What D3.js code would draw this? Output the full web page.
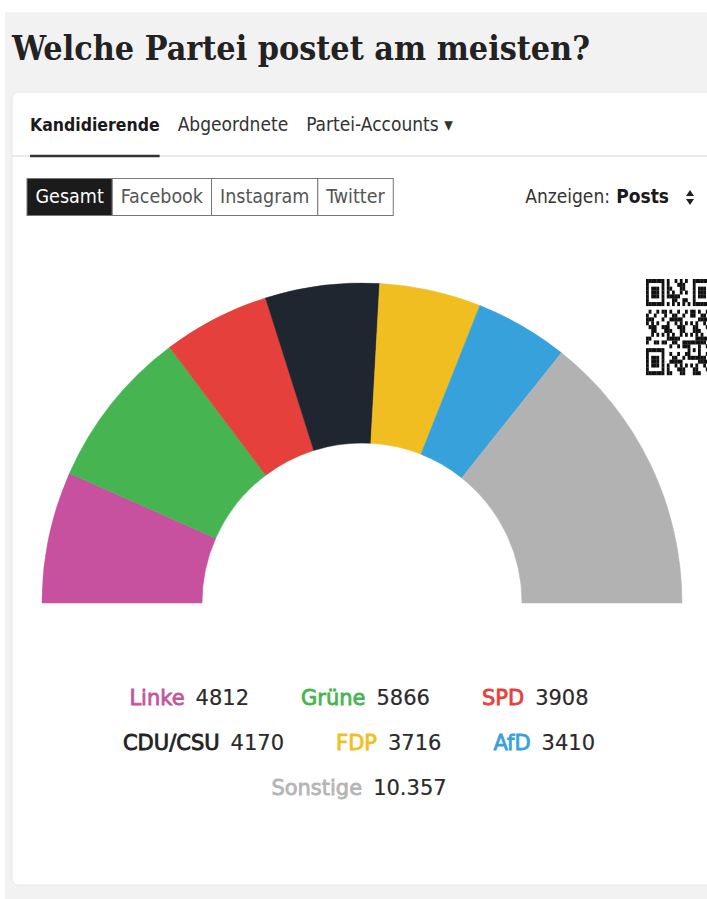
<!DOCTYPE html>
<html>
<head>
<meta charset="utf-8">
<script src="https://cdn.jsdelivr.net/npm/d3@7"></script>
<style>
  html, body { margin: 0; padding: 0; background: #fff; }
  svg { display: block; }
</style>
</head>
<body>
<div id="chart"></div>
<script>
// data
const parties = ['Linke', 'Grüne', 'SPD', 'CDU/CSU', 'FDP', 'AfD', 'Sonstige'];
const posts = [4812, 5866, 3908, 4170, 3716, 3410, 10357];
const partyColors = ['#c8519f', '#47b452', '#e5403b', '#1f2630', '#f1be22', '#36a1da', '#b2b2b2'];
const labelColors = ['#c4559d', '#47b452', '#e5403b', '#222222', '#f1be22', '#36a1da', '#b5b5b5'];
const tabLabels = ['Kandidierende', 'Abgeordnete', 'Partei-Accounts \u25BE'];
const platformLabels = ['Gesamt', 'Facebook', 'Instagram', 'Twitter'];
const legendRows = [[0, 1, 2], [3, 4, 5], [6]];

const w = 707,
  h = 899;
const uiFont = "'DejaVu Sans Condensed', 'DejaVu Sans', sans-serif";
const legendFont = "'DejaVu Sans', sans-serif";

const de = d3.formatLocale({ decimal: ',', thousands: '.', grouping: [3], currency: ['', ' €'] });
const fmtNum = (v) => (v >= 10000 ? de.format(',')(v) : String(v));

const svg = d3
  .select('#chart')
  .append('svg')
  .attr('width', w)
  .attr('height', h);

// page background + card
svg.append('rect').attr('x', 5).attr('y', 12).attr('width', w - 5).attr('height', h - 12).attr('fill', '#f2f2f2');
svg
  .append('rect')
  .attr('x', 12)
  .attr('y', 92)
  .attr('width', w + 20)
  .attr('height', 793)
  .attr('rx', 6)
  .attr('fill', '#fff')
  .attr('stroke', '#e9e9e9');

// title
svg
  .append('text')
  .attr('x', 12)
  .attr('y', 60)
  .attr('textLength', 578)
  .attr('lengthAdjust', 'spacingAndGlyphs')
  .style('font-family', "'DejaVu Serif Condensed', 'DejaVu Serif', serif")
  .style('font-weight', 'bold')
  .style('font-size', '34px')
  .attr('fill', '#222')
  .text('Welche Partei postet am meisten?');

// helper to measure text
function measure(str, font, size, weight) {
  const t = svg
    .append('text')
    .style('font-family', font)
    .style('font-size', size + 'px')
    .style('font-weight', weight || 'normal')
    .text(str);
  const len = t.node().getComputedTextLength();
  t.remove();
  return len;
}

// tabs
let tx = 30;
const tabSizes = [17.5, 19, 19];
const tabs = svg.append('g');
tabLabels.forEach((lab, i) => {
  const tw = measure(lab, uiFont, tabSizes[i], i === 0 ? 'bold' : 'normal');
  tabs
    .append('text')
    .attr('x', tx)
    .attr('y', 131)
    .style('font-family', uiFont)
    .style('font-size', tabSizes[i] + 'px')
    .style('font-weight', i === 0 ? 'bold' : 'normal')
    .attr('fill', i === 0 ? '#1a1a1a' : '#333')
    .text(lab);
  if (i === 0) {
    tabs.append('line').attr('x1', tx).attr('x2', tx + tw).attr('y1', 156).attr('y2', 156).attr('stroke', '#333').attr('stroke-width', 2.5);
  }
  tx += tw + 18;
});
svg.insert('line', 'g').attr('x1', 12).attr('x2', w).attr('y1', 156).attr('y2', 156).attr('stroke', '#d6d6d6').attr('stroke-width', 1.2);

// platform buttons
let bx = 27;
const buttons = svg.append('g');
platformLabels.forEach((lab, i) => {
  const bw = measure(lab, uiFont, 19.5) + 17;
  buttons
    .append('rect')
    .attr('x', bx)
    .attr('y', 178.5)
    .attr('width', bw)
    .attr('height', 37)
    .attr('fill', i === 0 ? '#1b1b1b' : '#fff')
    .attr('stroke', '#777')
    .attr('stroke-width', 1);
  buttons
    .append('text')
    .attr('x', bx + bw / 2)
    .attr('y', 203)
    .attr('text-anchor', 'middle')
    .style('font-family', uiFont)
    .style('font-size', '19.5px')
    .attr('fill', i === 0 ? '#fff' : '#555')
    .text(lab);
  bx += bw;
});

// "Anzeigen: Posts" selector
svg
  .append('text')
  .attr('x', 610)
  .attr('y', 203)
  .attr('text-anchor', 'end')
  .style('font-family', uiFont)
  .style('font-size', '19px')
  .attr('fill', '#333')
  .text('Anzeigen:');
svg
  .append('text')
  .attr('x', 669)
  .attr('y', 203)
  .attr('text-anchor', 'end')
  .style('font-family', uiFont)
  .style('font-size', '19px')
  .style('font-weight', 'bold')
  .attr('fill', '#1a1a1a')
  .text('Posts');
svg.append('path').attr('d', 'M686,196 L690,190 L694,196 Z M686,199 L690,205 L694,199 Z').attr('fill', '#222');

// half donut
const cx = 362,
  cy = 603;
const pie = d3
  .pie()
  .sort(null)
  .startAngle(-Math.PI / 2)
  .endAngle(Math.PI / 2)
  .value((d) => d);
const arc = d3.arc().innerRadius(160).outerRadius(320);

svg
  .append('g')
  .attr('transform', `translate(${cx},${cy})`)
  .selectAll('path')
  .data(pie(posts))
  .join('path')
  .attr('d', arc)
  .attr('fill', (d, i) => partyColors[i])
  .attr('stroke', (d, i) => partyColors[i])
  .attr('stroke-width', 0.5);

// legend
const legend = svg.append('g');
const gapInner = 11,
  gapOuter = 52,
  fs = 21;
legendRows.forEach((row, r) => {
  const items = row.map((i) => {
    const lw = measure(parties[i], legendFont, fs);
    const nw = measure(fmtNum(posts[i]), legendFont, fs);
    return { i, lw, nw, width: lw + gapInner + nw };
  });
  const total = d3.sum(items, (d) => d.width) + gapOuter * (items.length - 1);
  let x = 359 - total / 2;
  const y = 705 + r * 45;
  items.forEach((it) => {
    legend
      .append('text')
      .attr('x', x)
      .attr('y', y)
      .style('font-family', legendFont)
      .style('font-size', fs + 'px')
      .attr('fill', labelColors[it.i])
      .attr('stroke', labelColors[it.i])
      .attr('stroke-width', 0.8)
      .text(parties[it.i]);
    legend
      .append('text')
      .attr('x', x + it.lw + gapInner)
      .attr('y', y)
      .style('font-family', legendFont)
      .style('font-size', fs + 'px')
      .attr('fill', '#2a2a2a')
      .attr('stroke', '#2a2a2a')
      .attr('stroke-width', 0.2)
      .text(fmtNum(posts[it.i]));
    x += it.width + gapOuter;
  });
});

// QR code overlay (decorative, cut by the right edge)
const qr = svg.append('g').attr('transform', 'translate(646,279)');
const n = 25,
  mw = 2.6,
  mh = 3.84;
function finder(r, c, r0, c0) {
  const dr = r - r0,
    dc = c - c0;
  if (dr < 0 || dc < 0 || dr > 6 || dc > 6) return null;
  if (dr === 0 || dr === 6 || dc === 0 || dc === 6) return 1;
  if (dr >= 2 && dr <= 4 && dc >= 2 && dc <= 4) return 1;
  return 0;
}
const cells = [];
for (let r = 0; r < n; r++) {
  for (let c = 0; c < n; c++) {
    let v = finder(r, c, 0, 0);
    if (v === null) v = finder(r, c, 0, 18);
    if (v === null) v = finder(r, c, 18, 0);
    if (v === null) {
      if ((r === 7 && (c < 8 || c > 16)) || (c === 7 && (r < 8 || r > 16)) || (r === 17 && c < 8) || (c === 17 && r < 8)) v = 0;
      else if (r === 6 || c === 6) v = (r + c) % 2 === 0 ? 1 : 0;
      else if (r >= 16 && r <= 20 && c >= 16 && c <= 20) v = r === 16 || r === 20 || c === 16 || c === 20 || (r === 18 && c === 18) ? 1 : 0;
      else v = (r * 31 + c * 17 + r * c * 7) % 11 < 5 ? 1 : 0;
    }
    if (v) cells.push([r, c]);
  }
}
qr.selectAll('rect')
  .data(cells)
  .join('rect')
  .attr('x', (d) => d[1] * mw)
  .attr('y', (d) => d[0] * mh)
  .attr('width', mw + 0.2)
  .attr('height', mh + 0.2)
  .attr('fill', '#111');
</script>
</body>
</html>
